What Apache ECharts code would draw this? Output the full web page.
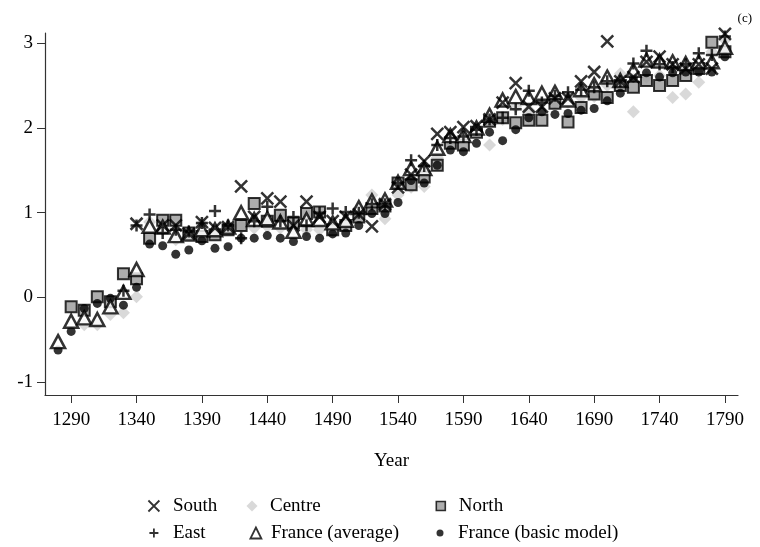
<!DOCTYPE html>
<html><head><meta charset="utf-8">
<script src="https://cdn.jsdelivr.net/npm/echarts@6/dist/echarts.min.js"></script>
<style>html,body{margin:0;padding:0;background:#fff}#c{width:760px;height:547px}</style>
</head><body><div id="c"></div>
<script>
const years = [1280,1290,1300,1310,1320,1330,1340,1350,1360,1370,1380,1390,1400,1410,1420,1430,1440,1450,1460,1470,1480,1490,1500,1510,1520,1530,1540,1550,1560,1570,1580,1590,1600,1610,1620,1630,1640,1650,1660,1670,1680,1690,1700,1710,1720,1730,1740,1750,1760,1770,1780,1790];
const xTicks = [1290,1340,1390,1440,1490,1540,1590,1640,1690,1740,1790];
const yTicks = [-1,0,1,2,3];

const south = [null,null,null,null,null,null,0.87,null,0.85,0.85,0.75,0.89,0.82,0.83,1.31,0.95,1.17,1.13,0.85,1.13,0.95,0.90,0.95,0.98,0.84,1.10,1.30,1.45,1.61,1.93,1.95,2.01,2.02,2.10,2.30,2.53,2.25,2.25,2.35,2.35,2.55,2.66,3.02,2.55,2.60,2.78,2.84,2.75,2.70,2.75,2.70,3.11];
const east = [null,null,null,null,null,0.08,0.85,0.98,0.76,0.80,0.78,0.88,1.02,0.85,0.70,0.90,1.07,0.90,0.95,0.85,1.00,1.05,1.01,1.00,1.10,1.10,1.35,1.62,1.55,1.80,1.88,1.90,1.98,2.10,2.12,2.22,2.44,2.30,2.38,2.42,2.45,2.48,2.55,2.55,2.76,2.91,2.75,2.72,2.75,2.88,2.86,3.08];
const centre = [null,null,-0.32,-0.32,-0.20,-0.18,0.01,0.89,0.80,0.68,0.75,0.87,0.80,0.82,0.84,0.82,0.84,0.82,0.80,0.80,0.80,0.82,0.85,1.05,1.21,0.93,1.21,1.30,1.31,1.65,1.85,1.90,1.98,1.80,2.10,2.25,2.21,2.30,2.30,2.30,2.36,2.37,2.50,2.64,2.19,2.60,2.62,2.36,2.40,2.54,2.90,3.04];
const franceAvg = [-0.52,-0.28,-0.24,-0.26,-0.11,0.06,0.33,0.84,0.83,0.73,0.75,0.80,0.80,0.83,1.00,0.92,0.93,0.89,0.78,0.92,0.92,0.88,0.91,1.06,1.14,1.15,1.36,1.52,1.52,1.76,1.91,1.91,2.00,2.15,2.33,2.37,2.36,2.41,2.42,2.33,2.45,2.51,2.60,2.56,2.68,2.80,2.79,2.78,2.76,2.78,2.78,2.95];
const north = [null,-0.11,-0.15,0.01,-0.05,0.28,0.22,0.70,0.91,0.91,0.76,0.72,0.74,0.80,0.85,1.11,0.90,0.97,0.88,0.99,1.01,0.80,0.85,0.95,1.05,1.08,1.35,1.33,1.42,1.56,1.82,1.80,1.95,2.08,2.12,2.06,2.09,2.09,2.29,2.07,2.24,2.40,2.36,2.50,2.48,2.56,2.50,2.56,2.62,2.70,3.01,2.90];
const franceBasic = [-0.62,-0.40,-0.13,-0.07,-0.01,-0.09,0.12,0.63,0.61,0.51,0.56,0.67,0.58,0.60,0.70,0.70,0.73,0.70,0.66,0.72,0.70,0.75,0.76,0.85,0.99,0.99,1.12,1.38,1.35,1.56,1.74,1.72,1.82,1.95,1.85,1.98,2.12,2.19,2.16,2.17,2.21,2.23,2.32,2.41,2.59,2.65,2.60,2.65,2.66,2.66,2.66,2.84];

const pairs = arr => years.map((y,i)=>[y,arr[i]]).filter(p=>p[1]!==null);
const FONT = '"Liberation Serif","Times New Roman",serif';
const CROSS = 'path://M0,0L10,10M10,0L0,10';
const PLUS = 'path://M5,0L5,10M0,5L10,5';

const styles = {
  'South': {symbol: CROSS, size: 12, item: {color:'rgba(0,0,0,0)', borderColor:'#000', borderWidth:2.5}},
  'East': {symbol: PLUS, size: 12, item: {color:'rgba(0,0,0,0)', borderColor:'#000', borderWidth:2.5}},
  'Centre': {symbol: 'diamond', size: 13, item: {color:'#cfcfcf', borderWidth:0}},
  'France (average)': {symbol: 'triangle', size: [14,13], item: {color:'#fff', borderColor:'#000', borderWidth:2.5}},
  'North': {symbol: 'rect', size: 11, item: {color:'#999', borderColor:'#000', borderWidth:2}},
  'France (basic model)': {symbol: 'circle', size: 9, item: {color:'#000', borderWidth:0}}
};
const seriesData = {
  'South': south, 'East': east, 'Centre': centre,
  'France (average)': franceAvg, 'North': north, 'France (basic model)': franceBasic
};
const drawOrder = ['Centre','North','France (basic model)','France (average)','East','South'];

const series = drawOrder.map((name,k)=>({
  name, type:'scatter', data: pairs(seriesData[name]),
  symbol: styles[name].symbol, symbolSize: styles[name].size,
  itemStyle: styles[name].item, z: 2+k, silent:true,
  emphasis:{disabled:true}
}));

const legendIcons = {
  'South': {icon: CROSS, itemStyle:{color:'rgba(0,0,0,0)', borderColor:'#000', borderWidth:1.8}},
  'East': {icon: PLUS, itemStyle:{color:'rgba(0,0,0,0)', borderColor:'#000', borderWidth:1.8}},
  'Centre': {icon: 'diamond', itemStyle:{color:'#cfcfcf', borderWidth:0}},
  'France (average)': {icon: 'triangle', itemStyle:{color:'#fff', borderColor:'#000', borderWidth:1.8}},
  'North': {icon: 'rect', itemStyle:{color:'#999', borderColor:'#000', borderWidth:1.6}},
  'France (basic model)': {icon: 'circle', itemStyle:{color:'#000', borderWidth:0}}
};
// [name, icon centre x, row centre y, icon size, text start x]
const legendPos = [
  ['South',153,506,11,172],['Centre',252,506,11,270],['North',440,506,9,458],
  ['East',153,533,9,172],['France (average)',255,533,11,270],['France (basic model)',440,533,7,458]
];
const legends = legendPos.map(([name,cx,cy,sz,tx])=>({
  left: cx - sz/2, top: cy - 10, padding:0, itemWidth:sz, itemHeight:sz,
  selectedMode:false,
  textStyle:{fontFamily:FONT, fontSize:19, color:'#000', padding:[0,0,0,Math.max(0,tx-(cx+sz/2)-5)], lineHeight:20},
  data:[Object.assign({name}, legendIcons[name])]
}));

const chart = echarts.init(document.getElementById('c'), null, {renderer:'canvas'});
chart.setOption({
  animation:false,
  backgroundColor:'#fff',
  grid:{left:45, right:22, top:33, bottom:152, containLabel:false},
  legend: legends,
  graphic:[{type:'text', right:8, top:12, style:{text:'(c)', font:'13px '+FONT, fill:'#000'}}],
  xAxis:{
    type:'value', min:1270, max:1800,
    name:'Year', nameLocation:'middle', nameGap:57,
    nameTextStyle:{fontFamily:FONT, fontSize:19, color:'#000'},
    axisLine:{show:true, onZero:false, lineStyle:{color:'#333', width:1.2}},
    axisTick:{show:true, length:8, customValues:xTicks, lineStyle:{color:'#333'}},
    axisLabel:{customValues:xTicks, formatter: v => String(v), fontFamily:FONT, fontSize:19, color:'#000', margin:16},
    splitLine:{show:false}
  },
  yAxis:{
    type:'value', min:-1.15, max:3.12,
    axisLine:{show:true, onZero:false, lineStyle:{color:'#333', width:1.2}},
    axisTick:{show:true, length:8, customValues:yTicks, lineStyle:{color:'#333'}},
    axisLabel:{customValues:yTicks, fontFamily:FONT, fontSize:19, color:'#000', margin:12},
    splitLine:{show:false}
  },
  series
});
</script></body></html>
